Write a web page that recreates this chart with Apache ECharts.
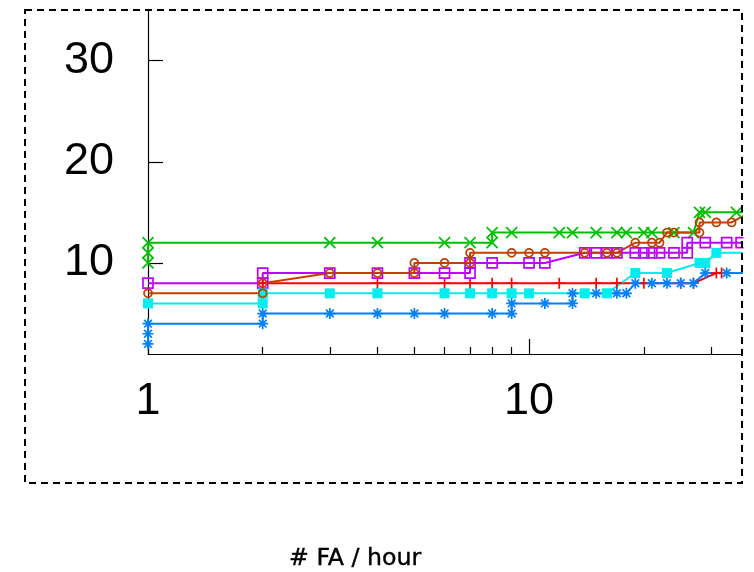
<!DOCTYPE html>
<html><head><meta charset="utf-8">
<script src="https://cdn.jsdelivr.net/npm/echarts@6/dist/echarts.min.js"></script>
<style>html,body{margin:0;padding:0;background:#fff}#c{width:754px;height:572px}</style>
</head><body><div id="c"></div>
<script>
// ---- data ----
const xMajorTicks = [1, 10];
const xMinorTicks = [2, 3, 4, 5, 6, 7, 8, 9, 20, 30];
const yTicks = [10, 20, 30];
const xTitle = '# FA / hour';

const redPts = [[2,8],[4,8],[6,8],[7,8],[8,8],[9,8],[12,8],[15,8],[17,8],[20,8],[25,8],[27,8],[31,9],[32,9]];
const greenPts = [[1,10],[1,11],[1,12],[3,12],[4,12],[6,12],[7,12],[8,12],[8,13],[9,13],[12,13],[13,13],[15,13],[17,13],[18,13],[20,13],[21,13],[24,13],[27,13],[28,15],[29,15],[35,15],[40,15]];
const bluePts = [[1,2],[1,3],[1,4],[2,4],[2,5],[3,5],[4,5],[5,5],[6,5],[8,5],[9,5],[9,6],[11,6],[13,6],[13,7],[15,7],[17,7],[18,7],[19,8],[21,8],[23,8],[25,8],[27,8],[29,9],[33,9],[40,9]];
const magentaPts = [[1,8],[2,8],[2,9],[3,9],[4,9],[5,9],[6,9],[7,9],[7,10],[8,10],[10,10],[11,10],[14,11],[15,11],[16,11],[17,11],[19,11],[20,11],[21,11],[22,11],[24,11],[26,11],[26,12],[29,12],[33,12],[36,12],[40,12]];
const cyanPts = [[1,6],[2,6],[2,7],[3,7],[4,7],[6,7],[7,7],[8,7],[9,7],[10,7],[14,7],[16,7],[19,9],[23,9],[28,10],[29,10],[31,11],[40,11]];
const orangePts = [[1,7],[2,7],[2,8],[3,9],[4,9],[5,9],[5,10],[6,10],[7,10],[7,11],[9,11],[10,11],[11,11],[14,11],[16,11],[17,11],[19,12],[21,12],[22,12],[23,13],[24,13],[28,13],[28,14],[31,14],[34,14],[38,15]];

// ---- chart ----
const SYM_PLUS = 'path://M0,5H10M5,0V10';
const SYM_X = 'path://M0,0L10,10M10,0L0,10';
const SYM_STAR = 'path://M0,5H10M5,0V10M1.5,1.5L8.5,8.5M8.5,1.5L1.5,8.5';

function mk(name, data, color, symbol, size, filled) {
  return {
    type: 'line', name, data, symbol, symbolSize: size,
    showSymbol: true, showAllSymbol: true, clip: true, silent: true,
    lineStyle: { color, width: 2 },
    itemStyle: { color: filled ? color : 'rgba(0,0,0,0)', borderColor: color, borderWidth: filled ? 0 : 1.7 },
    emphasis: { disabled: true }
  };
}

const X_MAX = 36.2;
const fontNum = 'Liberation Sans, Arial, sans-serif';
const chart = echarts.init(document.getElementById('c'), null, { renderer: 'canvas' });
chart.setOption({
  animation: false,
  backgroundColor: '#fff',
  grid: { left: 148, right: 12, top: 10, bottom: 218, containLabel: false },
  title: {
    text: xTitle, left: 289, top: 547, padding: 0,
    textStyle: { fontFamily: 'DejaVu Sans', fontSize: 23.7, fontWeight: 'normal', color: '#000',
      textBorderColor: '#000', textBorderWidth: 0.4 }
  },
  xAxis: [{
    type: 'log', logBase: 10, min: 1, max: X_MAX,
    axisLine: { show: true, onZero: false, lineStyle: { color: '#000', width: 1.2 } },
    axisTick: { show: true, inside: true, length: 15, customValues: xMajorTicks, lineStyle: { color: '#000', width: 1.2 } },
    axisLabel: { customValues: xMajorTicks, fontSize: 45, fontFamily: fontNum, color: '#000', margin: 25, formatter: v => String(v) },
    splitLine: { show: false }, minorTick: { show: false }
  }, {
    type: 'log', logBase: 10, min: 1, max: X_MAX, position: 'bottom',
    axisLine: { show: false, onZero: false },
    axisTick: { show: true, inside: true, length: 7, customValues: xMinorTicks, lineStyle: { color: '#000', width: 1.2 } },
    axisLabel: { show: false }, splitLine: { show: false }
  }],
  yAxis: {
    type: 'value', min: 1, max: 35,
    axisLine: { show: true, onZero: false, lineStyle: { color: '#000', width: 1.2 } },
    axisTick: { show: true, inside: true, length: 15, customValues: yTicks, lineStyle: { color: '#000', width: 1.2 } },
    axisLabel: { customValues: yTicks, fontSize: 45, fontFamily: fontNum, color: '#000', margin: 34 },
    splitLine: { show: false }
  },
  series: [
    mk('red', redPts, '#ff0000', SYM_PLUS, 11, false),
    mk('green', greenPts, '#00c000', SYM_X, 11, false),
    mk('blue', bluePts, '#0080ff', SYM_STAR, 11, false),
    mk('magenta', magentaPts, '#c000ff', 'rect', 10, false),
    mk('cyan', cyanPts, '#00eeee', 'rect', 10, true),
    mk('orange', orangePts, '#c04000', 'circle', 8, false)
  ],
  graphic: [
    { type: 'rect', z: 100, shape: { x: 743.5, y: 0, width: 20, height: 572 }, style: { fill: '#fff' }, silent: true },
    { type: 'rect', z: 101, shape: { x: 25, y: 10, width: 717, height: 473 },
      style: { fill: 'none', stroke: '#000', lineWidth: 2, lineDash: [7, 5] }, silent: true }
  ]
});
</script></body></html>
